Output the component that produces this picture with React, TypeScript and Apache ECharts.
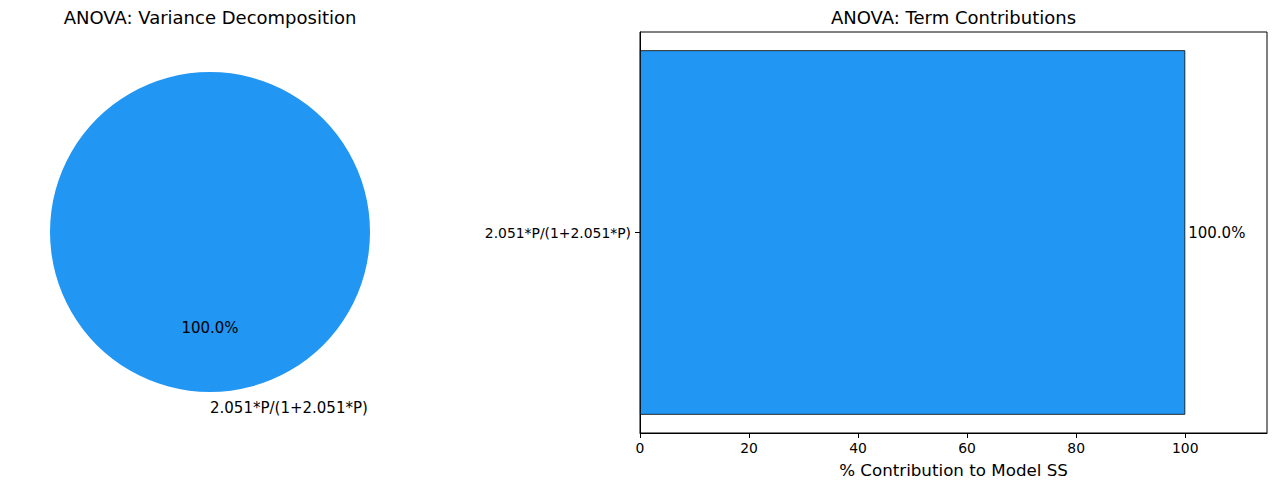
import React, { useEffect, useRef } from "react";
import * as echarts from "echarts";

const terms = ["2.051*P/(1+2.051*P)"];
const contributions = [100.0];
const xTicks = [0, 20, 40, 60, 80, 100];

const FONT = "DejaVu Sans";
const BLUE = "#2196F3";
const CX = 210;
const CY = 232;
const R = 160;

export default function App() {
  const ref = useRef<HTMLDivElement>(null);
  useEffect(() => {
    if (!ref.current) return;
    const chart = echarts.init(ref.current, undefined, { renderer: "svg" });
    const pieData = terms.map((t, i) => ({ name: t, value: contributions[i] }));
    chart.setOption({
      animation: false,
      backgroundColor: "#fff",
      textStyle: { fontFamily: FONT },
      title: [
        {
          text: "ANOVA: Variance Decomposition",
          left: CX,
          top: 8,
          padding: 0,
          textAlign: "center",
          textStyle: { fontFamily: FONT, fontSize: 18, fontWeight: "normal", color: "#000" },
        },
        {
          text: "ANOVA: Term Contributions",
          left: 953.5,
          top: 8,
          padding: 0,
          textAlign: "center",
          textStyle: { fontFamily: FONT, fontSize: 18, fontWeight: "normal", color: "#000" },
        },
      ],
      grid: {
        left: 640,
        right: 9,
        top: 32,
        bottom: 57,
        show: true,
        borderColor: "#000",
        borderWidth: 1,
        backgroundColor: "transparent",
      },
      xAxis: {
        type: "value",
        min: 0,
        max: 115,
        interval: 20,
        name: "% Contribution to Model SS",
        nameLocation: "middle",
        nameGap: 28,
        nameTextStyle: { fontFamily: FONT, fontSize: 16.7, color: "#000" },
        axisLine: { show: true, lineStyle: { color: "#000", width: 1 } },
        axisTick: { show: true, length: 5, lineStyle: { color: "#000" }, customValues: xTicks },
        axisLabel: {
          customValues: xTicks,
          fontFamily: FONT,
          fontSize: 13.9,
          color: "#000",
          margin: 8,
        },
        splitLine: { show: false },
      },
      yAxis: {
        type: "category",
        data: terms,
        axisLine: { show: true, lineStyle: { color: "#000", width: 1 } },
        axisTick: { show: true, length: 5, alignWithLabel: true, lineStyle: { color: "#000" } },
        axisLabel: { fontFamily: FONT, fontSize: 13.9, color: "#000", margin: 9 },
        splitLine: { show: false },
      },
      series: [
        {
          type: "bar",
          data: contributions,
          barWidth: "90.9%",
          barCategoryGap: 0,
          itemStyle: { color: BLUE, borderColor: "#000", borderWidth: 0.8 },
          label: {
            show: true,
            position: "right",
            distance: 3,
            formatter: (p: any) => Number(p.value).toFixed(1) + "%",
            fontFamily: FONT,
            fontSize: 15,
            color: "#000",
          },
        },
        {
          type: "pie",
          center: [CX, CY],
          radius: [0, R],
          startAngle: 90,
          clockwise: false,
          data: pieData,
          itemStyle: { color: BLUE },
          emphasis: { disabled: true },
          label: {
            show: true,
            position: "inside",
            formatter: (p: any) => Number(p.percent).toFixed(1) + "%",
            fontFamily: FONT,
            fontSize: 15,
            color: "#000",
          },
          labelLine: { show: false },
          labelLayout: () => ({ x: CX, y: CY + 0.6 * R, align: "center", verticalAlign: "middle" }),
        },
        {
          type: "pie",
          center: [CX, CY],
          radius: [0, R],
          startAngle: 90,
          clockwise: false,
          silent: true,
          data: pieData,
          itemStyle: { color: "transparent" },
          emphasis: { disabled: true },
          label: {
            show: true,
            position: "inside",
            formatter: (p: any) => p.name,
            fontFamily: FONT,
            fontSize: 15,
            color: "#000",
          },
          labelLine: { show: false },
          labelLayout: () => ({ x: CX, y: CY + 1.1 * R, align: "left", verticalAlign: "middle" }),
        },
      ],
    });
    return () => chart.dispose();
  }, []);
  return (
    <div
      ref={ref}
      style={{ position: "fixed", left: 0, top: 0, width: 1276, height: 490 }}
    />
  );
}
